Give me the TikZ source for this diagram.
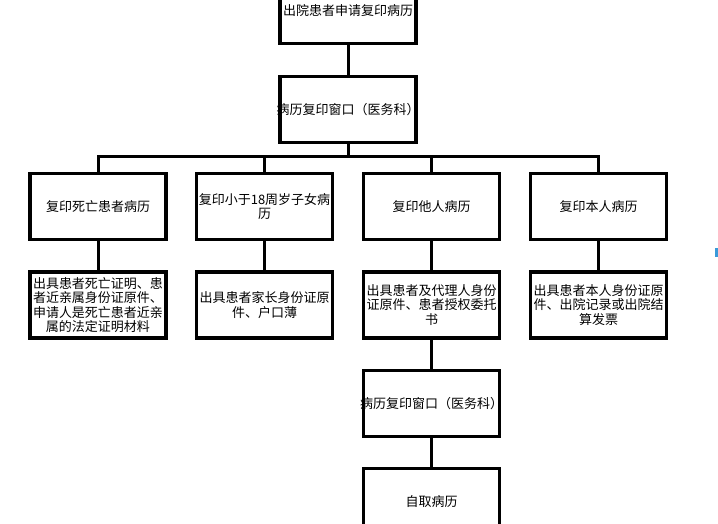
\documentclass[tikz,border=0pt]{standalone}
\usepackage{fontspec}
\setmainfont{Noto Sans CJK SC}
\usepackage{tikz}
\usetikzlibrary{positioning}
\usepackage{xcolor}
\definecolor{markblue}{RGB}{58,154,217}

\begin{document}
\begin{tikzpicture}[x=1pt, y=-1pt,
        box/.style={draw, line width=3.5pt, minimum width=136pt, minimum height=66pt,
                    inner sep=0pt, align=center, font=\fontsize{13}{14.5}\selectfont},
        link/.style={line width=3pt}]
        \useasboundingbox (0,0) rectangle (718,524);
        \clip (0,0) rectangle (718,524);
        \fill[white] (0,0) rectangle (718,524);
        % top part
        \node[box] (apply) at (348,10.5) {出院患者申请复印病历};
        \node[box] (window) at (348,109.5) {\makebox[130pt]{病历复印窗口（医务科）}};
        % four kinds of copy
        \node[box] (dead) at (98,206.5) {复印死亡患者病历};
        \node[box] (minor) at (264.5,206.5) {复印小于18周岁子女病\\历};
        \node[box] (other) at (431.5,206.5) {复印他人病历};
        \node[box] (self) at (598.5,206.5) {复印本人病历};
        % papers to bring
        \node[box] (deaddoc) at (98,305) {出具患者死亡证明、患\\者近亲属身份证原件、\\申请人是死亡患者近亲\\属的法定证明材料};
        \node[box] (minordoc) at (264.5,305) {出具患者家长身份证原\\件、户口薄};
        \node[box] (otherdoc) at (431.5,305) {出具患者及代理人身份\\证原件、患者授权委托\\书};
        \node[box] (selfdoc) at (598.5,305) {出具患者本人身份证原\\件、出院记录或出院结\\算发票};
        % last steps
        \node[box] (window2) at (431.5,403.5) {\makebox[130pt]{病历复印窗口（医务科）}};
        \node[box] (fetch) at (431.5,501.5) {自取病历};
        % connectors
        \coordinate (bus) at (348,157);
        \draw[link] (apply) -- (window);
        \draw[link] (window) -- (bus);
        \foreach \n in {dead,minor,other,self}
            \draw[link] (bus) -| (\n);
        \draw[link] (dead) -- (deaddoc);
        \draw[link] (minor) -- (minordoc);
        \draw[link] (other) -- (otherdoc);
        \draw[link] (self) -- (selfdoc);
        \draw[link] (otherdoc) -- (window2);
        \draw[link] (window2) -- (fetch);
        \fill[markblue] (715,248) rectangle (718,257);
    \end{tikzpicture}
\end{document}
